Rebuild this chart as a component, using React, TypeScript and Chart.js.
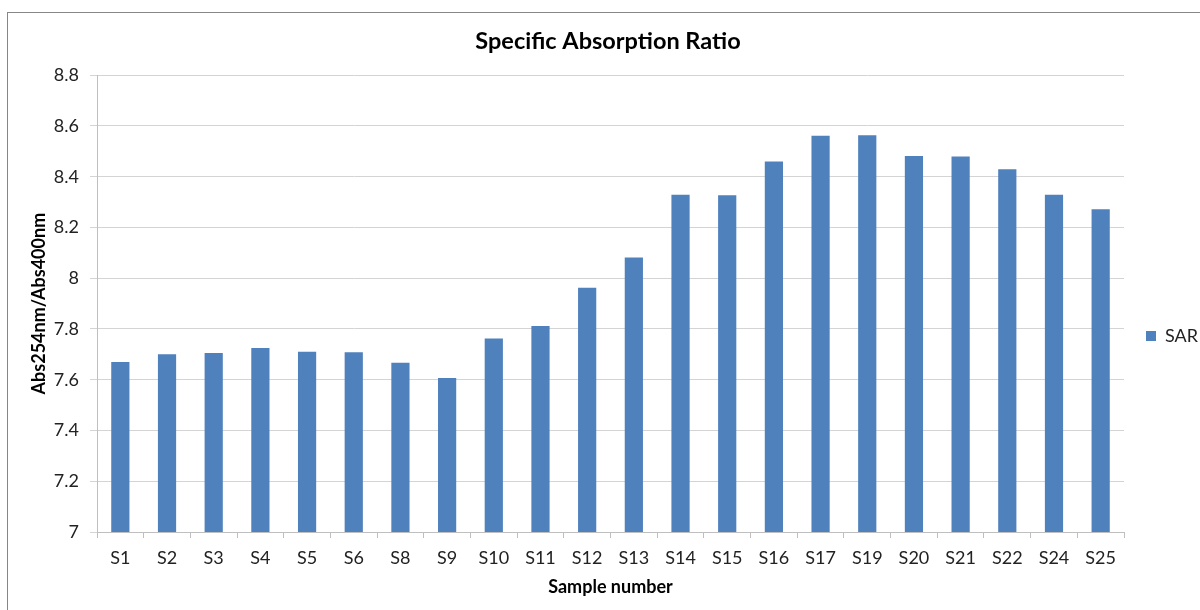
import React, { useEffect, useRef } from "react";
import { Chart, registerables } from "chart.js";

Chart.register(...registerables);

const categories = [
  "S1", "S2", "S3", "S4", "S5", "S6", "S8", "S9", "S10", "S11", "S12",
  "S13", "S14", "S15", "S16", "S17", "S19", "S20", "S21", "S22", "S24", "S25",
];

const sarValues = [
  7.67, 7.70, 7.705, 7.725, 7.71, 7.708, 7.667, 7.607, 7.762, 7.812, 7.962,
  8.082, 8.329, 8.327, 8.46, 8.561, 8.563, 8.482, 8.48, 8.429, 8.329, 8.272,
];

const seriesName = "SAR";
const chartTitle = "Specific Absorption Ratio";
const yAxisTitle = "Abs254nm/Abs400nm";
const xAxisTitle = "Sample number";
const yMin = 7;
const yMax = 8.8;
const yStep = 0.2;

const FONT = "Lato, 'Open Sans', 'DejaVu Sans', sans-serif";
const CANVAS_W = 1230;
const CANVAS_H = 700;

export default function App() {
  const canvasRef = useRef<HTMLCanvasElement | null>(null);

  useEffect(() => {
    const canvas = canvasRef.current;
    if (!canvas) return;
    const chart = new Chart(canvas, {
      type: "bar",
      data: {
        labels: categories,
        datasets: [
          {
            label: seriesName,
            data: sarValues,
            backgroundColor: "#4F81BD",
            borderWidth: 0,
            categoryPercentage: 1,
            barPercentage: 0.39,
          },
        ],
      },
      options: {
        responsive: false,
        maintainAspectRatio: false,
        animation: false,
        devicePixelRatio: 1,
        layout: { padding: { top: 12, bottom: 40, left: 8, right: 22 } },
        plugins: {
          title: {
            display: true,
            text: chartTitle,
            color: "#000",
            font: { family: FONT, size: 23.5, weight: "bold", lineHeight: 1.2 },
            padding: { top: 15, bottom: 20 },
          },
          legend: {
            display: true,
            position: "right",
            labels: {
              boxWidth: 10,
              boxHeight: 10,
              padding: 22,
              color: "#222",
              font: { family: FONT, size: 18 },
            },
          },
          tooltip: { enabled: false },
        },
        scales: {
          x: {
            type: "category",
            offset: true,
            afterFit: (scale: any) => {
              scale.height = 128;
            },
            grid: {
              offset: true,
              drawOnChartArea: false,
              drawTicks: true,
              tickLength: 6,
              color: "#bfbfbf",
            },
            border: { display: true, color: "#bfbfbf" },
            ticks: {
              color: "#222",
              padding: 9,
              maxRotation: 0,
              autoSkip: false,
              font: { family: FONT, size: 18 },
            },
            title: {
              display: true,
              text: xAxisTitle,
              color: "#000",
              font: { family: FONT, size: 18, weight: "bold", lineHeight: 1.2 },
              padding: { top: 0, bottom: 62 },
            },
          },
          y: {
            min: yMin,
            max: yMax,
            afterFit: (scale: any) => {
              scale.width = 89;
            },
            grid: {
              color: "#d4d4d4",
              drawTicks: true,
              tickLength: 7,
            },
            border: { display: true, color: "#bfbfbf" },
            ticks: {
              stepSize: yStep,
              color: "#222",
              padding: 11,
              font: { family: FONT, size: 18 },
              callback: (v: any) => String(Math.round(Number(v) * 10) / 10),
            },
            title: {
              display: true,
              text: yAxisTitle,
              color: "#000",
              font: { family: FONT, size: 18, weight: "bold", lineHeight: 1.2 },
              padding: { top: 20, bottom: 0 },
            },
          },
        },
      },
    });
    return () => chart.destroy();
  }, []);

  return (
    <div
      style={{
        position: "fixed",
        left: 0,
        top: 0,
        width: 1200,
        height: 610,
        overflow: "hidden",
        background: "#fff",
      }}
    >
      <div
        style={{
          position: "absolute",
          left: 7,
          top: 12,
          width: 1300,
          height: 800,
          border: "1px solid #878787",
        }}
      />
      <canvas
        ref={canvasRef}
        width={CANVAS_W}
        height={CANVAS_H}
        style={{ position: "absolute", left: 0, top: 0, width: CANVAS_W, height: CANVAS_H }}
      />
    </div>
  );
}
